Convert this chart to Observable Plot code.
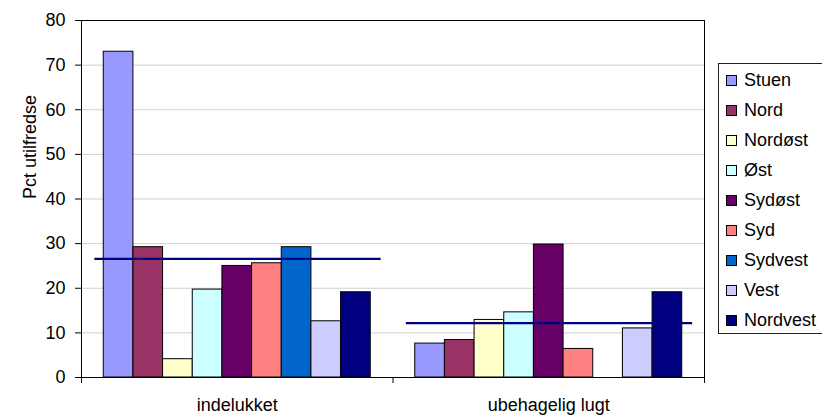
<!DOCTYPE html>
<html>
<head>
<meta charset="utf-8">
<script src="https://cdn.jsdelivr.net/npm/d3@7"></script>
<script src="https://cdn.jsdelivr.net/npm/@observablehq/plot@0.6"></script>
<style>
  html, body { margin: 0; padding: 0; background: #fff; }
  #wrap { position: relative; width: 822px; height: 416px; overflow: hidden; font-family: Arial, "Liberation Sans", sans-serif; }
  #legend { position: absolute; left: 718px; top: 63px; width: 120px; height: 271px; border: 1px solid #222; box-sizing: border-box; background: #fff; }
  .item { position: absolute; left: 7px; height: 20px; display: flex; align-items: center; font-size: 18px; color: #000; white-space: nowrap; }
  .sw { width: 9px; height: 9px; border: 1px solid #000; margin-right: 7px; flex: none; }
</style>
</head>
<body>
<div id="wrap"></div>
<script>
const groups = ["indelukket", "ubehagelig lugt"];
const series = ["Stuen", "Nord", "Nordøst", "Øst", "Sydøst", "Syd", "Sydvest", "Vest", "Nordvest"];
const colors = ["#9999FF", "#993366", "#FFFFCC", "#CCFFFF", "#660066", "#FF8080", "#0066CC", "#CCCCFF", "#000080"];
const indelukket = [73, 29.2, 4.1, 19.7, 25.0, 25.6, 29.2, 12.6, 19.1];
const ubehageligLugt = [7.6, 8.4, 12.9, 14.6, 29.8, 6.4, null, 11.0, 19.1];
const averages = [26.6, 12.2];
const yTicks = [0, 10, 20, 30, 40, 50, 60, 70, 80];
const yTitle = "Pct utilfredse";

const GAP = 1.5;
const n = series.length;
const groupWidth = n + GAP;
const groupValues = [indelukket, ubehageligLugt];

const rows = groups.flatMap((g, gi) => series.map((s, si) => ({
  group: g, series: s, value: groupValues[gi][si],
  x1: gi * groupWidth + GAP / 2 + si,
  x2: gi * groupWidth + GAP / 2 + si + 1
}))).filter(d => d.value != null);

const avgRows = groups.map((g, gi) => ({
  group: g, value: averages[gi],
  x1: gi * groupWidth + 0.45,
  x2: (gi + 1) * groupWidth - 0.4
}));

const centers = groups.map((g, gi) => gi * groupWidth + groupWidth / 2);
const bounds = d3.range(groups.length + 1).map(i => i * groupWidth);

const chart = Plot.plot({
  width: 822,
  height: 416,
  marginLeft: 81,
  marginRight: 118,
  marginTop: 20,
  marginBottom: 39,
  style: { fontFamily: "Arial, 'Liberation Sans', sans-serif", fontSize: "18px", color: "#000", background: "transparent" },
  x: { domain: [0, groups.length * groupWidth], axis: null },
  y: { domain: [0, 80], axis: null },
  color: { domain: series, range: colors },
  marks: [
    Plot.ruleY(yTicks, { stroke: "#d0d0d0", strokeWidth: 1 }),
    Plot.rect(rows, { x1: "x1", x2: "x2", y1: 0, y2: "value", fill: "series", stroke: "#000", strokeWidth: 1 }),
    Plot.ruleY(avgRows, { x1: "x1", x2: "x2", y: "value", stroke: "#000080", strokeWidth: 2.2 }),
    Plot.frame({ stroke: "#000" }),
    Plot.axisY({ ticks: yTicks, tickSize: 6, tickPadding: 10, label: null, fontSize: 18 }),
    Plot.text([yTitle], { frameAnchor: "left", rotate: -90, dx: -51, fontSize: 18, fill: "#000" }),
    Plot.axisX({ ticks: centers, tickFormat: d => groups[centers.indexOf(d)], tickSize: 0, tickPadding: 21, label: null, fontSize: 18 }),
    Plot.axisX({ ticks: bounds, tickFormat: () => "", tickSize: 6, label: null })
  ]
});

const wrap = document.getElementById("wrap");
wrap.appendChild(chart);

const legend = document.createElement("div");
legend.id = "legend";
series.forEach((s, i) => {
  const item = document.createElement("div");
  item.className = "item";
  item.style.top = (6 + i * 30) + "px";
  const sw = document.createElement("div");
  sw.className = "sw";
  sw.style.background = colors[i];
  item.appendChild(sw);
  item.appendChild(document.createTextNode(s));
  legend.appendChild(item);
});
wrap.appendChild(legend);
</script>
</body>
</html>
